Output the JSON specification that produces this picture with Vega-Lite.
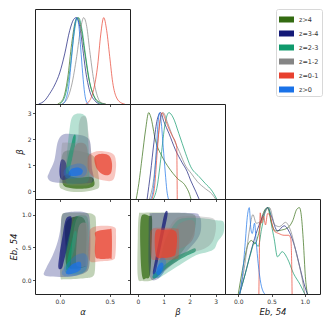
{
"$schema":"https://vega.github.io/schema/vega-lite/v6.json",
"padding":{"left":8,"top":8,"right":5,"bottom":5},
"background":"white",
"datasets":{
"c":[
{"p":"ab","s":"z>4","l":1,"x":0.03,"y":1.45},{"p":"ab","s":"z>4","l":1,"x":0.113,"y":1.58},{"p":"ab","s":"z>4","l":1,"x":0.247,"y":1.51},{"p":"ab","s":"z>4","l":1,"x":0.347,"y":1.32},{"p":"ab","s":"z>4","l":1,"x":0.38,"y":0.81},{"p":"ab","s":"z>4","l":1,"x":0.397,"y":0.24},{"p":"ab","s":"z>4","l":1,"x":0.363,"y":0.08},{"p":"ab","s":"z>4","l":1,"x":0.247,"y":-0.01},{"p":"ab","s":"z>4","l":1,"x":0.113,"y":-0.01},{"p":"ab","s":"z>4","l":1,"x":0.03,"y":0.08},{"p":"ab","s":"z>4","l":1,"x":-0.003,"y":0.24},{"p":"ab","s":"z>4","l":1,"x":0.013,"y":0.81},
{"p":"ab","s":"z>4","l":2,"x":0.047,"y":0.62},{"p":"ab","s":"z>4","l":2,"x":0.18,"y":0.53},{"p":"ab","s":"z>4","l":2,"x":0.313,"y":0.56},{"p":"ab","s":"z>4","l":2,"x":0.347,"y":0.37},{"p":"ab","s":"z>4","l":2,"x":0.33,"y":0.18},{"p":"ab","s":"z>4","l":2,"x":0.213,"y":0.1},{"p":"ab","s":"z>4","l":2,"x":0.08,"y":0.15},{"p":"ab","s":"z>4","l":2,"x":0.03,"y":0.31},
{"p":"ab","s":"z=3-4","l":1,"x":-0.12,"y":0.53},{"p":"ab","s":"z=3-4","l":1,"x":-0.103,"y":0.75},{"p":"ab","s":"z=3-4","l":1,"x":-0.053,"y":1.2},{"p":"ab","s":"z=3-4","l":1,"x":-0.02,"y":1.9},{"p":"ab","s":"z=3-4","l":1,"x":0.03,"y":2.18},{"p":"ab","s":"z=3-4","l":1,"x":0.113,"y":2.21},{"p":"ab","s":"z=3-4","l":1,"x":0.23,"y":2.15},{"p":"ab","s":"z=3-4","l":1,"x":0.297,"y":1.98},{"p":"ab","s":"z=3-4","l":1,"x":0.313,"y":1.58},{"p":"ab","s":"z=3-4","l":1,"x":0.32,"y":0.94},{"p":"ab","s":"z=3-4","l":1,"x":0.34,"y":0.41},{"p":"ab","s":"z=3-4","l":1,"x":0.247,"y":0.31},{"p":"ab","s":"z=3-4","l":1,"x":0.08,"y":0.31},{"p":"ab","s":"z=3-4","l":1,"x":-0.07,"y":0.36},
{"p":"ab","s":"z=3-4","l":2,"x":0.013,"y":1.2},{"p":"ab","s":"z=3-4","l":2,"x":0.053,"y":1.17},{"p":"ab","s":"z=3-4","l":2,"x":0.08,"y":0.88},{"p":"ab","s":"z=3-4","l":2,"x":0.113,"y":0.62},{"p":"ab","s":"z=3-4","l":2,"x":0.063,"y":0.46},{"p":"ab","s":"z=3-4","l":2,"x":0.013,"y":0.48},{"p":"ab","s":"z=3-4","l":2,"x":-0.003,"y":0.75},
{"p":"ab","s":"z=2-3","l":1,"x":0.063,"y":0.37},{"p":"ab","s":"z=2-3","l":1,"x":0.073,"y":1.45},{"p":"ab","s":"z=2-3","l":1,"x":0.097,"y":2.34},{"p":"ab","s":"z=2-3","l":1,"x":0.12,"y":2.82},{"p":"ab","s":"z=2-3","l":1,"x":0.163,"y":2.98},{"p":"ab","s":"z=2-3","l":1,"x":0.24,"y":2.95},{"p":"ab","s":"z=2-3","l":1,"x":0.273,"y":2.72},{"p":"ab","s":"z=2-3","l":1,"x":0.287,"y":1.83},{"p":"ab","s":"z=2-3","l":1,"x":0.297,"y":0.81},{"p":"ab","s":"z=2-3","l":1,"x":0.28,"y":0.37},{"p":"ab","s":"z=2-3","l":1,"x":0.18,"y":0.31},
{"p":"ab","s":"z=2-3","l":2,"x":0.063,"y":0.75},{"p":"ab","s":"z=2-3","l":2,"x":0.08,"y":1.26},{"p":"ab","s":"z=2-3","l":2,"x":0.113,"y":1.77},{"p":"ab","s":"z=2-3","l":2,"x":0.14,"y":2.15},{"p":"ab","s":"z=2-3","l":2,"x":0.16,"y":2.11},{"p":"ab","s":"z=2-3","l":2,"x":0.147,"y":1.58},{"p":"ab","s":"z=2-3","l":2,"x":0.113,"y":1.07},{"p":"ab","s":"z=2-3","l":2,"x":0.087,"y":0.71},
{"p":"ab","s":"z=1-2","l":1,"x":0.02,"y":1.73},{"p":"ab","s":"z=1-2","l":1,"x":0.053,"y":1.88},{"p":"ab","s":"z=1-2","l":1,"x":0.173,"y":1.91},{"p":"ab","s":"z=1-2","l":1,"x":0.193,"y":2.6},{"p":"ab","s":"z=1-2","l":1,"x":0.22,"y":2.88},{"p":"ab","s":"z=1-2","l":1,"x":0.267,"y":2.82},{"p":"ab","s":"z=1-2","l":1,"x":0.287,"y":2.28},{"p":"ab","s":"z=1-2","l":1,"x":0.313,"y":1.58},{"p":"ab","s":"z=1-2","l":1,"x":0.327,"y":0.81},{"p":"ab","s":"z=1-2","l":1,"x":0.313,"y":0.31},{"p":"ab","s":"z=1-2","l":1,"x":0.213,"y":0.23},{"p":"ab","s":"z=1-2","l":1,"x":0.047,"y":0.28},{"p":"ab","s":"z=1-2","l":1,"x":0.013,"y":0.56},
{"p":"ab","s":"z=1-2","l":2,"x":0.12,"y":0.81},{"p":"ab","s":"z=1-2","l":2,"x":0.133,"y":1.45},{"p":"ab","s":"z=1-2","l":2,"x":0.167,"y":1.81},{"p":"ab","s":"z=1-2","l":2,"x":0.233,"y":1.86},{"p":"ab","s":"z=1-2","l":2,"x":0.273,"y":1.68},{"p":"ab","s":"z=1-2","l":2,"x":0.287,"y":1.07},{"p":"ab","s":"z=1-2","l":2,"x":0.273,"y":0.62},{"p":"ab","s":"z=1-2","l":2,"x":0.18,"y":0.56},
{"p":"ab","s":"z=0-1","l":1,"x":0.297,"y":1.42},{"p":"ab","s":"z=0-1","l":1,"x":0.397,"y":1.55},{"p":"ab","s":"z=0-1","l":1,"x":0.53,"y":1.45},{"p":"ab","s":"z=0-1","l":1,"x":0.563,"y":1.13},{"p":"ab","s":"z=0-1","l":1,"x":0.553,"y":0.62},{"p":"ab","s":"z=0-1","l":1,"x":0.52,"y":0.41},{"p":"ab","s":"z=0-1","l":1,"x":0.43,"y":0.43},{"p":"ab","s":"z=0-1","l":1,"x":0.34,"y":0.56},{"p":"ab","s":"z=0-1","l":1,"x":0.287,"y":0.81},{"p":"ab","s":"z=0-1","l":1,"x":0.28,"y":1.2},
{"p":"ab","s":"z=0-1","l":2,"x":0.353,"y":1.35},{"p":"ab","s":"z=0-1","l":2,"x":0.43,"y":1.45},{"p":"ab","s":"z=0-1","l":2,"x":0.497,"y":1.36},{"p":"ab","s":"z=0-1","l":2,"x":0.523,"y":1.07},{"p":"ab","s":"z=0-1","l":2,"x":0.513,"y":0.71},{"p":"ab","s":"z=0-1","l":2,"x":0.463,"y":0.62},{"p":"ab","s":"z=0-1","l":2,"x":0.397,"y":0.75},{"p":"ab","s":"z=0-1","l":2,"x":0.357,"y":1.01},
{"p":"ab","s":"z>0","l":1,"x":0.04,"y":0.75},{"p":"ab","s":"z>0","l":1,"x":0.08,"y":0.94},{"p":"ab","s":"z>0","l":1,"x":0.18,"y":1.07},{"p":"ab","s":"z>0","l":1,"x":0.247,"y":1.01},{"p":"ab","s":"z>0","l":1,"x":0.273,"y":0.81},{"p":"ab","s":"z>0","l":1,"x":0.247,"y":0.59},{"p":"ab","s":"z>0","l":1,"x":0.147,"y":0.5},{"p":"ab","s":"z>0","l":1,"x":0.063,"y":0.53},
{"p":"ab","s":"z>0","l":2,"x":0.09,"y":0.71},{"p":"ab","s":"z>0","l":2,"x":0.12,"y":0.87},{"p":"ab","s":"z>0","l":2,"x":0.187,"y":0.92},{"p":"ab","s":"z>0","l":2,"x":0.23,"y":0.81},{"p":"ab","s":"z>0","l":2,"x":0.213,"y":0.64},{"p":"ab","s":"z>0","l":2,"x":0.14,"y":0.59},{"p":"ab","s":"z>0","l":2,"x":0.097,"y":0.62},
{"p":"ae","s":"z>4","l":1,"x":0.02,"y":0.99},{"p":"ae","s":"z>4","l":1,"x":0.063,"y":1.03},{"p":"ae","s":"z>4","l":1,"x":0.247,"y":1.03},{"p":"ae","s":"z>4","l":1,"x":0.34,"y":1.0},{"p":"ae","s":"z>4","l":1,"x":0.363,"y":0.89},{"p":"ae","s":"z>4","l":1,"x":0.357,"y":0.48},{"p":"ae","s":"z>4","l":1,"x":0.353,"y":0.16},{"p":"ae","s":"z>4","l":1,"x":0.33,"y":0.056},{"p":"ae","s":"z>4","l":1,"x":0.247,"y":0.03},{"p":"ae","s":"z>4","l":1,"x":0.047,"y":0.015},{"p":"ae","s":"z>4","l":1,"x":0.007,"y":0.056},{"p":"ae","s":"z>4","l":1,"x":0.007,"y":0.43},{"p":"ae","s":"z>4","l":1,"x":0.013,"y":0.84},
{"p":"ae","s":"z>4","l":2,"x":0.07,"y":0.9},{"p":"ae","s":"z>4","l":2,"x":0.25,"y":0.92},{"p":"ae","s":"z>4","l":2,"x":0.26,"y":0.3},{"p":"ae","s":"z>4","l":2,"x":0.24,"y":0.2},{"p":"ae","s":"z>4","l":2,"x":0.08,"y":0.2},{"p":"ae","s":"z>4","l":2,"x":0.06,"y":0.5},
{"p":"ae","s":"z=3-4","l":1,"x":-0.16,"y":0.09},{"p":"ae","s":"z=3-4","l":1,"x":-0.137,"y":0.18},{"p":"ae","s":"z=3-4","l":1,"x":-0.07,"y":0.38},{"p":"ae","s":"z=3-4","l":1,"x":-0.02,"y":0.59},{"p":"ae","s":"z=3-4","l":1,"x":0.007,"y":0.79},{"p":"ae","s":"z=3-4","l":1,"x":0.02,"y":0.965},{"p":"ae","s":"z=3-4","l":1,"x":0.053,"y":1.03},{"p":"ae","s":"z=3-4","l":1,"x":0.18,"y":1.05},{"p":"ae","s":"z=3-4","l":1,"x":0.263,"y":1.03},{"p":"ae","s":"z=3-4","l":1,"x":0.297,"y":0.965},{"p":"ae","s":"z=3-4","l":1,"x":0.307,"y":0.64},{"p":"ae","s":"z=3-4","l":1,"x":0.297,"y":0.23},{"p":"ae","s":"z=3-4","l":1,"x":0.247,"y":0.11},{"p":"ae","s":"z=3-4","l":1,"x":0.113,"y":0.056},{"p":"ae","s":"z=3-4","l":1,"x":-0.003,"y":0.05},{"p":"ae","s":"z=3-4","l":1,"x":-0.12,"y":0.06},
{"p":"ae","s":"z=3-4","l":2,"x":0.08,"y":0.965},{"p":"ae","s":"z=3-4","l":2,"x":0.12,"y":0.95},{"p":"ae","s":"z=3-4","l":2,"x":0.107,"y":0.74},{"p":"ae","s":"z=3-4","l":2,"x":0.073,"y":0.48},{"p":"ae","s":"z=3-4","l":2,"x":0.04,"y":0.28},{"p":"ae","s":"z=3-4","l":2,"x":0.02,"y":0.18},{"p":"ae","s":"z=3-4","l":2,"x":-0.013,"y":0.19},{"p":"ae","s":"z=3-4","l":2,"x":-0.003,"y":0.38},{"p":"ae","s":"z=3-4","l":2,"x":0.03,"y":0.69},{"p":"ae","s":"z=3-4","l":2,"x":0.053,"y":0.89},
{"p":"ae","s":"z=2-3","l":1,"x":0.047,"y":0.16},{"p":"ae","s":"z=2-3","l":1,"x":0.063,"y":0.48},{"p":"ae","s":"z=2-3","l":1,"x":0.113,"y":0.79},{"p":"ae","s":"z=2-3","l":1,"x":0.163,"y":0.965},{"p":"ae","s":"z=2-3","l":1,"x":0.23,"y":0.99},{"p":"ae","s":"z=2-3","l":1,"x":0.28,"y":0.94},{"p":"ae","s":"z=2-3","l":1,"x":0.29,"y":0.64},{"p":"ae","s":"z=2-3","l":1,"x":0.28,"y":0.23},{"p":"ae","s":"z=2-3","l":1,"x":0.23,"y":0.11},{"p":"ae","s":"z=2-3","l":1,"x":0.113,"y":0.09},
{"p":"ae","s":"z=2-3","l":2,"x":0.063,"y":0.18},{"p":"ae","s":"z=2-3","l":2,"x":0.08,"y":0.33},{"p":"ae","s":"z=2-3","l":2,"x":0.113,"y":0.54},{"p":"ae","s":"z=2-3","l":2,"x":0.147,"y":0.74},{"p":"ae","s":"z=2-3","l":2,"x":0.17,"y":0.71},{"p":"ae","s":"z=2-3","l":2,"x":0.147,"y":0.48},{"p":"ae","s":"z=2-3","l":2,"x":0.107,"y":0.28},{"p":"ae","s":"z=2-3","l":2,"x":0.087,"y":0.16},
{"p":"ae","s":"z=1-2","l":1,"x":0.113,"y":0.23},{"p":"ae","s":"z=1-2","l":1,"x":0.13,"y":0.64},{"p":"ae","s":"z=1-2","l":1,"x":0.163,"y":0.91},{"p":"ae","s":"z=1-2","l":1,"x":0.213,"y":1.0},{"p":"ae","s":"z=1-2","l":1,"x":0.273,"y":0.965},{"p":"ae","s":"z=1-2","l":1,"x":0.297,"y":0.74},{"p":"ae","s":"z=1-2","l":1,"x":0.29,"y":0.23},{"p":"ae","s":"z=1-2","l":1,"x":0.247,"y":0.13},{"p":"ae","s":"z=1-2","l":1,"x":0.147,"y":0.13},
{"p":"ae","s":"z=1-2","l":2,"x":0.163,"y":0.28},{"p":"ae","s":"z=1-2","l":2,"x":0.173,"y":0.64},{"p":"ae","s":"z=1-2","l":2,"x":0.197,"y":0.84},{"p":"ae","s":"z=1-2","l":2,"x":0.247,"y":0.88},{"p":"ae","s":"z=1-2","l":2,"x":0.28,"y":0.79},{"p":"ae","s":"z=1-2","l":2,"x":0.28,"y":0.28},{"p":"ae","s":"z=1-2","l":2,"x":0.247,"y":0.21},{"p":"ae","s":"z=1-2","l":2,"x":0.187,"y":0.21},
{"p":"ae","s":"z=0-1","l":1,"x":0.313,"y":0.79},{"p":"ae","s":"z=0-1","l":1,"x":0.413,"y":0.83},{"p":"ae","s":"z=0-1","l":1,"x":0.547,"y":0.81},{"p":"ae","s":"z=0-1","l":1,"x":0.563,"y":0.69},{"p":"ae","s":"z=0-1","l":1,"x":0.557,"y":0.38},{"p":"ae","s":"z=0-1","l":1,"x":0.53,"y":0.31},{"p":"ae","s":"z=0-1","l":1,"x":0.413,"y":0.29},{"p":"ae","s":"z=0-1","l":1,"x":0.313,"y":0.28},{"p":"ae","s":"z=0-1","l":1,"x":0.287,"y":0.38},{"p":"ae","s":"z=0-1","l":1,"x":0.297,"y":0.69},
{"p":"ae","s":"z=0-1","l":2,"x":0.363,"y":0.74},{"p":"ae","s":"z=0-1","l":2,"x":0.497,"y":0.78},{"p":"ae","s":"z=0-1","l":2,"x":0.52,"y":0.74},{"p":"ae","s":"z=0-1","l":2,"x":0.52,"y":0.36},{"p":"ae","s":"z=0-1","l":2,"x":0.497,"y":0.33},{"p":"ae","s":"z=0-1","l":2,"x":0.38,"y":0.33},{"p":"ae","s":"z=0-1","l":2,"x":0.353,"y":0.41},{"p":"ae","s":"z=0-1","l":2,"x":0.357,"y":0.64},
{"p":"ae","s":"z>0","l":1,"x":0.02,"y":0.11},{"p":"ae","s":"z>0","l":1,"x":0.063,"y":0.23},{"p":"ae","s":"z>0","l":1,"x":0.163,"y":0.38},{"p":"ae","s":"z>0","l":1,"x":0.247,"y":0.41},{"p":"ae","s":"z>0","l":1,"x":0.28,"y":0.33},{"p":"ae","s":"z>0","l":1,"x":0.263,"y":0.16},{"p":"ae","s":"z>0","l":1,"x":0.18,"y":0.08},{"p":"ae","s":"z>0","l":1,"x":0.063,"y":0.056},
{"p":"ae","s":"z>0","l":2,"x":0.063,"y":0.13},{"p":"ae","s":"z>0","l":2,"x":0.113,"y":0.23},{"p":"ae","s":"z>0","l":2,"x":0.18,"y":0.28},{"p":"ae","s":"z>0","l":2,"x":0.213,"y":0.26},{"p":"ae","s":"z>0","l":2,"x":0.207,"y":0.16},{"p":"ae","s":"z>0","l":2,"x":0.147,"y":0.11},{"p":"ae","s":"z>0","l":2,"x":0.08,"y":0.09},
{"p":"be","s":"z>4","l":1,"x":0.04,"y":0.99},{"p":"be","s":"z>4","l":1,"x":0.19,"y":1.03},{"p":"be","s":"z>4","l":1,"x":1.22,"y":1.03},{"p":"be","s":"z>4","l":1,"x":2.05,"y":1.015},{"p":"be","s":"z>4","l":1,"x":2.24,"y":0.94},{"p":"be","s":"z>4","l":1,"x":2.12,"y":0.69},{"p":"be","s":"z>4","l":1,"x":1.6,"y":0.38},{"p":"be","s":"z>4","l":1,"x":0.96,"y":0.13},{"p":"be","s":"z>4","l":1,"x":0.58,"y":0.005},{"p":"be","s":"z>4","l":1,"x":0.19,"y":-0.01},{"p":"be","s":"z>4","l":1,"x":0.0,"y":0.056},{"p":"be","s":"z>4","l":1,"x":0.0,"y":0.64},
{"p":"be","s":"z>4","l":2,"x":0.13,"y":0.965},{"p":"be","s":"z>4","l":2,"x":0.45,"y":0.98},{"p":"be","s":"z>4","l":2,"x":0.55,"y":0.94},{"p":"be","s":"z>4","l":2,"x":0.53,"y":0.48},{"p":"be","s":"z>4","l":2,"x":0.47,"y":0.08},{"p":"be","s":"z>4","l":2,"x":0.32,"y":0.03},{"p":"be","s":"z>4","l":2,"x":0.17,"y":0.056},{"p":"be","s":"z>4","l":2,"x":0.1,"y":0.48},
{"p":"be","s":"z=3-4","l":1,"x":0.45,"y":0.99},{"p":"be","s":"z=3-4","l":1,"x":0.64,"y":1.025},{"p":"be","s":"z=3-4","l":1,"x":2.12,"y":1.025},{"p":"be","s":"z=3-4","l":1,"x":2.37,"y":0.98},{"p":"be","s":"z=3-4","l":1,"x":2.44,"y":0.89},{"p":"be","s":"z=3-4","l":1,"x":2.4,"y":0.71},{"p":"be","s":"z=3-4","l":1,"x":2.12,"y":0.54},{"p":"be","s":"z=3-4","l":1,"x":1.6,"y":0.33},{"p":"be","s":"z=3-4","l":1,"x":1.09,"y":0.16},{"p":"be","s":"z=3-4","l":1,"x":0.77,"y":0.02},{"p":"be","s":"z=3-4","l":1,"x":0.51,"y":0.02},{"p":"be","s":"z=3-4","l":1,"x":0.42,"y":0.23},{"p":"be","s":"z=3-4","l":1,"x":0.42,"y":0.74},
{"p":"be","s":"z=3-4","l":2,"x":1.03,"y":1.015},{"p":"be","s":"z=3-4","l":2,"x":1.15,"y":1.015},{"p":"be","s":"z=3-4","l":2,"x":0.96,"y":0.64},{"p":"be","s":"z=3-4","l":2,"x":0.77,"y":0.28},{"p":"be","s":"z=3-4","l":2,"x":0.68,"y":0.11},{"p":"be","s":"z=3-4","l":2,"x":0.58,"y":0.11},{"p":"be","s":"z=3-4","l":2,"x":0.68,"y":0.33},{"p":"be","s":"z=3-4","l":2,"x":0.86,"y":0.69},
{"p":"be","s":"z=2-3","l":1,"x":1.09,"y":0.64},{"p":"be","s":"z=2-3","l":1,"x":1.47,"y":0.89},{"p":"be","s":"z=2-3","l":1,"x":1.86,"y":0.95},{"p":"be","s":"z=2-3","l":1,"x":2.63,"y":0.94},{"p":"be","s":"z=2-3","l":1,"x":3.01,"y":0.914},{"p":"be","s":"z=2-3","l":1,"x":3.29,"y":0.9},{"p":"be","s":"z=2-3","l":1,"x":3.33,"y":0.79},{"p":"be","s":"z=2-3","l":1,"x":3.27,"y":0.69},{"p":"be","s":"z=2-3","l":1,"x":3.08,"y":0.59},{"p":"be","s":"z=2-3","l":1,"x":2.95,"y":0.48},{"p":"be","s":"z=2-3","l":1,"x":2.69,"y":0.43},{"p":"be","s":"z=2-3","l":1,"x":2.24,"y":0.38},{"p":"be","s":"z=2-3","l":1,"x":1.6,"y":0.23},{"p":"be","s":"z=2-3","l":1,"x":0.96,"y":0.07},{"p":"be","s":"z=2-3","l":1,"x":0.77,"y":0.03},{"p":"be","s":"z=2-3","l":1,"x":0.71,"y":0.11},{"p":"be","s":"z=2-3","l":1,"x":0.9,"y":0.38},
{"p":"be","s":"z=2-3","l":2,"x":0.58,"y":0.07},{"p":"be","s":"z=2-3","l":2,"x":0.96,"y":0.21},{"p":"be","s":"z=2-3","l":2,"x":1.47,"y":0.36},{"p":"be","s":"z=2-3","l":2,"x":1.86,"y":0.43},{"p":"be","s":"z=2-3","l":2,"x":2.18,"y":0.49},{"p":"be","s":"z=2-3","l":2,"x":2.22,"y":0.44},{"p":"be","s":"z=2-3","l":2,"x":1.92,"y":0.38},{"p":"be","s":"z=2-3","l":2,"x":1.47,"y":0.28},{"p":"be","s":"z=2-3","l":2,"x":1.03,"y":0.16},{"p":"be","s":"z=2-3","l":2,"x":0.68,"y":0.03},
{"p":"be","s":"z=1-2","l":1,"x":1.15,"y":0.74},{"p":"be","s":"z=1-2","l":1,"x":1.47,"y":0.94},{"p":"be","s":"z=1-2","l":1,"x":1.99,"y":0.98},{"p":"be","s":"z=1-2","l":1,"x":2.63,"y":0.965},{"p":"be","s":"z=1-2","l":1,"x":2.95,"y":0.93},{"p":"be","s":"z=1-2","l":1,"x":3.01,"y":0.79},{"p":"be","s":"z=1-2","l":1,"x":2.88,"y":0.59},{"p":"be","s":"z=1-2","l":1,"x":2.56,"y":0.48},{"p":"be","s":"z=1-2","l":1,"x":1.99,"y":0.41},{"p":"be","s":"z=1-2","l":1,"x":1.47,"y":0.28},{"p":"be","s":"z=1-2","l":1,"x":1.09,"y":0.16},{"p":"be","s":"z=1-2","l":1,"x":0.9,"y":0.13},{"p":"be","s":"z=1-2","l":1,"x":0.96,"y":0.43},
{"p":"be","s":"z=1-2","l":2,"x":1.54,"y":0.84},{"p":"be","s":"z=1-2","l":2,"x":1.92,"y":0.914},{"p":"be","s":"z=1-2","l":2,"x":2.18,"y":0.89},{"p":"be","s":"z=1-2","l":2,"x":2.18,"y":0.69},{"p":"be","s":"z=1-2","l":2,"x":1.99,"y":0.56},{"p":"be","s":"z=1-2","l":2,"x":1.6,"y":0.48},{"p":"be","s":"z=1-2","l":2,"x":1.41,"y":0.51},{"p":"be","s":"z=1-2","l":2,"x":1.45,"y":0.69},
{"p":"be","s":"z=0-1","l":1,"x":0.55,"y":0.78},{"p":"be","s":"z=0-1","l":1,"x":0.83,"y":0.8},{"p":"be","s":"z=0-1","l":1,"x":1.47,"y":0.79},{"p":"be","s":"z=0-1","l":1,"x":1.58,"y":0.74},{"p":"be","s":"z=0-1","l":1,"x":1.58,"y":0.38},{"p":"be","s":"z=0-1","l":1,"x":1.45,"y":0.32},{"p":"be","s":"z=0-1","l":1,"x":0.71,"y":0.31},{"p":"be","s":"z=0-1","l":1,"x":0.51,"y":0.36},{"p":"be","s":"z=0-1","l":1,"x":0.47,"y":0.69},
{"p":"be","s":"z=0-1","l":2,"x":0.68,"y":0.74},{"p":"be","s":"z=0-1","l":2,"x":0.96,"y":0.77},{"p":"be","s":"z=0-1","l":2,"x":1.47,"y":0.74},{"p":"be","s":"z=0-1","l":2,"x":1.47,"y":0.43},{"p":"be","s":"z=0-1","l":2,"x":1.32,"y":0.36},{"p":"be","s":"z=0-1","l":2,"x":0.83,"y":0.34},{"p":"be","s":"z=0-1","l":2,"x":0.68,"y":0.41},
{"p":"be","s":"z>0","l":1,"x":0.58,"y":0.056},{"p":"be","s":"z>0","l":1,"x":0.68,"y":0.21},{"p":"be","s":"z>0","l":1,"x":0.86,"y":0.33},{"p":"be","s":"z>0","l":1,"x":1.03,"y":0.34},{"p":"be","s":"z>0","l":1,"x":1.09,"y":0.26},{"p":"be","s":"z>0","l":1,"x":0.99,"y":0.12},{"p":"be","s":"z>0","l":1,"x":0.81,"y":0.04},
{"p":"be","s":"z>0","l":2,"x":0.71,"y":0.11},{"p":"be","s":"z>0","l":2,"x":0.77,"y":0.21},{"p":"be","s":"z>0","l":2,"x":0.9,"y":0.27},{"p":"be","s":"z>0","l":2,"x":0.99,"y":0.24},{"p":"be","s":"z>0","l":2,"x":0.94,"y":0.14},{"p":"be","s":"z>0","l":2,"x":0.81,"y":0.08}
],
"h":[
{"p":"a","s":"z>4","x":-0.02,"y":0},{"p":"a","s":"z>4","x":0.03,"y":0.05},{"p":"a","s":"z>4","x":0.08,"y":0.3},{"p":"a","s":"z>4","x":0.12,"y":0.7},{"p":"a","s":"z>4","x":0.16,"y":0.97},{"p":"a","s":"z>4","x":0.18,"y":1.0},{"p":"a","s":"z>4","x":0.21,"y":0.9},{"p":"a","s":"z>4","x":0.25,"y":0.6},{"p":"a","s":"z>4","x":0.29,"y":0.3},{"p":"a","s":"z>4","x":0.34,"y":0.1},{"p":"a","s":"z>4","x":0.4,"y":0.02},{"p":"a","s":"z>4","x":0.46,"y":0},
{"p":"a","s":"z=3-4","x":-0.21,"y":0},{"p":"a","s":"z=3-4","x":-0.15,"y":0.04},{"p":"a","s":"z=3-4","x":-0.1,"y":0.12},{"p":"a","s":"z=3-4","x":-0.05,"y":0.22},{"p":"a","s":"z=3-4","x":0.0,"y":0.36},{"p":"a","s":"z=3-4","x":0.05,"y":0.58},{"p":"a","s":"z=3-4","x":0.1,"y":0.85},{"p":"a","s":"z=3-4","x":0.14,"y":0.98},{"p":"a","s":"z=3-4","x":0.165,"y":1.0},{"p":"a","s":"z=3-4","x":0.2,"y":0.9},{"p":"a","s":"z=3-4","x":0.23,"y":0.65},{"p":"a","s":"z=3-4","x":0.26,"y":0.38},{"p":"a","s":"z=3-4","x":0.3,"y":0.15},{"p":"a","s":"z=3-4","x":0.35,"y":0.04},{"p":"a","s":"z=3-4","x":0.4,"y":0},
{"p":"a","s":"z=2-3","x":0.0,"y":0},{"p":"a","s":"z=2-3","x":0.05,"y":0.08},{"p":"a","s":"z=2-3","x":0.1,"y":0.38},{"p":"a","s":"z=2-3","x":0.14,"y":0.78},{"p":"a","s":"z=2-3","x":0.17,"y":0.98},{"p":"a","s":"z=2-3","x":0.19,"y":1.0},{"p":"a","s":"z=2-3","x":0.22,"y":0.88},{"p":"a","s":"z=2-3","x":0.26,"y":0.55},{"p":"a","s":"z=2-3","x":0.3,"y":0.25},{"p":"a","s":"z=2-3","x":0.35,"y":0.07},{"p":"a","s":"z=2-3","x":0.4,"y":0.01},{"p":"a","s":"z=2-3","x":0.45,"y":0},
{"p":"a","s":"z=1-2","x":0.02,"y":0},{"p":"a","s":"z=1-2","x":0.07,"y":0.05},{"p":"a","s":"z=1-2","x":0.12,"y":0.22},{"p":"a","s":"z=1-2","x":0.17,"y":0.55},{"p":"a","s":"z=1-2","x":0.21,"y":0.88},{"p":"a","s":"z=1-2","x":0.24,"y":1.0},{"p":"a","s":"z=1-2","x":0.27,"y":0.9},{"p":"a","s":"z=1-2","x":0.3,"y":0.62},{"p":"a","s":"z=1-2","x":0.34,"y":0.28},{"p":"a","s":"z=1-2","x":0.38,"y":0.08},{"p":"a","s":"z=1-2","x":0.42,"y":0.01},{"p":"a","s":"z=1-2","x":0.46,"y":0},
{"p":"a","s":"z=0-1","x":0.26,"y":0},{"p":"a","s":"z=0-1","x":0.3,"y":0.04},{"p":"a","s":"z=0-1","x":0.34,"y":0.17},{"p":"a","s":"z=0-1","x":0.38,"y":0.45},{"p":"a","s":"z=0-1","x":0.41,"y":0.8},{"p":"a","s":"z=0-1","x":0.44,"y":1.0},{"p":"a","s":"z=0-1","x":0.47,"y":0.85},{"p":"a","s":"z=0-1","x":0.5,"y":0.55},{"p":"a","s":"z=0-1","x":0.53,"y":0.25},{"p":"a","s":"z=0-1","x":0.57,"y":0.07},{"p":"a","s":"z=0-1","x":0.62,"y":0.01},{"p":"a","s":"z=0-1","x":0.65,"y":0},
{"p":"a","s":"z>0","x":0.03,"y":0},{"p":"a","s":"z>0","x":0.06,"y":0.05},{"p":"a","s":"z>0","x":0.09,"y":0.2},{"p":"a","s":"z>0","x":0.12,"y":0.55},{"p":"a","s":"z>0","x":0.15,"y":0.9},{"p":"a","s":"z>0","x":0.17,"y":1.0},{"p":"a","s":"z>0","x":0.19,"y":0.92},{"p":"a","s":"z>0","x":0.21,"y":0.65},{"p":"a","s":"z>0","x":0.23,"y":0.35},{"p":"a","s":"z>0","x":0.25,"y":0.12},{"p":"a","s":"z>0","x":0.27,"y":0.02},{"p":"a","s":"z>0","x":0.29,"y":0},
{"p":"b","s":"z>4","x":-0.06,"y":0},{"p":"b","s":"z>4","x":0.04,"y":0.18},{"p":"b","s":"z>4","x":0.17,"y":0.49},{"p":"b","s":"z>4","x":0.3,"y":0.8},{"p":"b","s":"z>4","x":0.42,"y":1.0},{"p":"b","s":"z>4","x":0.5,"y":0.95},{"p":"b","s":"z>4","x":0.68,"y":0.68},{"p":"b","s":"z>4","x":0.94,"y":0.49},{"p":"b","s":"z>4","x":1.2,"y":0.36},{"p":"b","s":"z>4","x":1.52,"y":0.24},{"p":"b","s":"z>4","x":1.84,"y":0.15},{"p":"b","s":"z>4","x":2.0,"y":0.05},{"p":"b","s":"z>4","x":2.05,"y":0},
{"p":"b","s":"z=3-4","x":0.36,"y":0},{"p":"b","s":"z=3-4","x":0.49,"y":0.3},{"p":"b","s":"z=3-4","x":0.62,"y":0.65},{"p":"b","s":"z=3-4","x":0.75,"y":0.92},{"p":"b","s":"z=3-4","x":0.88,"y":1.0},{"p":"b","s":"z=3-4","x":1.0,"y":0.9},{"p":"b","s":"z=3-4","x":1.2,"y":0.76},{"p":"b","s":"z=3-4","x":1.45,"y":0.57},{"p":"b","s":"z=3-4","x":1.71,"y":0.42},{"p":"b","s":"z=3-4","x":1.9,"y":0.32},{"p":"b","s":"z=3-4","x":2.03,"y":0.22},{"p":"b","s":"z=3-4","x":2.23,"y":0.09},{"p":"b","s":"z=3-4","x":2.36,"y":0},
{"p":"b","s":"z=2-3","x":0.6,"y":0},{"p":"b","s":"z=2-3","x":0.75,"y":0.15},{"p":"b","s":"z=2-3","x":0.9,"y":0.5},{"p":"b","s":"z=2-3","x":1.05,"y":0.87},{"p":"b","s":"z=2-3","x":1.2,"y":1.0},{"p":"b","s":"z=2-3","x":1.35,"y":0.95},{"p":"b","s":"z=2-3","x":1.58,"y":0.76},{"p":"b","s":"z=2-3","x":1.84,"y":0.53},{"p":"b","s":"z=2-3","x":2.03,"y":0.38},{"p":"b","s":"z=2-3","x":2.36,"y":0.26},{"p":"b","s":"z=2-3","x":2.6,"y":0.18},{"p":"b","s":"z=2-3","x":2.87,"y":0.09},{"p":"b","s":"z=2-3","x":3.04,"y":0},
{"p":"b","s":"z=1-2","x":0.45,"y":0},{"p":"b","s":"z=1-2","x":0.6,"y":0.2},{"p":"b","s":"z=1-2","x":0.75,"y":0.62},{"p":"b","s":"z=1-2","x":0.88,"y":0.93},{"p":"b","s":"z=1-2","x":0.98,"y":1.0},{"p":"b","s":"z=1-2","x":1.15,"y":0.88},{"p":"b","s":"z=1-2","x":1.35,"y":0.72},{"p":"b","s":"z=1-2","x":1.6,"y":0.55},{"p":"b","s":"z=1-2","x":1.85,"y":0.38},{"p":"b","s":"z=1-2","x":2.05,"y":0.3},{"p":"b","s":"z=1-2","x":2.3,"y":0.2},{"p":"b","s":"z=1-2","x":2.6,"y":0.12},{"p":"b","s":"z=1-2","x":2.85,"y":0.06},{"p":"b","s":"z=1-2","x":3.0,"y":0},
{"p":"b","s":"z=0-1","x":0.55,"y":0},{"p":"b","s":"z=0-1","x":0.65,"y":0.15},{"p":"b","s":"z=0-1","x":0.75,"y":0.55},{"p":"b","s":"z=0-1","x":0.85,"y":0.9},{"p":"b","s":"z=0-1","x":0.94,"y":1.0},{"p":"b","s":"z=0-1","x":1.05,"y":0.93},{"p":"b","s":"z=0-1","x":1.15,"y":0.85},{"p":"b","s":"z=0-1","x":1.25,"y":0.78},{"p":"b","s":"z=0-1","x":1.35,"y":0.72},{"p":"b","s":"z=0-1","x":1.45,"y":0.66},{"p":"b","s":"z=0-1","x":1.5,"y":0.6},{"p":"b","s":"z=0-1","x":1.52,"y":0},
{"p":"b","s":"z>0","x":0.5,"y":0},{"p":"b","s":"z>0","x":0.6,"y":0.12},{"p":"b","s":"z>0","x":0.7,"y":0.5},{"p":"b","s":"z>0","x":0.78,"y":0.88},{"p":"b","s":"z>0","x":0.84,"y":1.0},{"p":"b","s":"z>0","x":0.9,"y":0.9},{"p":"b","s":"z>0","x":0.98,"y":0.6},{"p":"b","s":"z>0","x":1.06,"y":0.3},{"p":"b","s":"z>0","x":1.12,"y":0.1},{"p":"b","s":"z>0","x":1.18,"y":0},
{"p":"e","s":"z>4","x":0.0,"y":0},{"p":"e","s":"z>4","x":0.08,"y":0.35},{"p":"e","s":"z>4","x":0.15,"y":0.58},{"p":"e","s":"z>4","x":0.2,"y":0.62},{"p":"e","s":"z>4","x":0.25,"y":0.58},{"p":"e","s":"z>4","x":0.3,"y":0.68},{"p":"e","s":"z>4","x":0.36,"y":0.9},{"p":"e","s":"z>4","x":0.44,"y":1.0},{"p":"e","s":"z>4","x":0.5,"y":0.82},{"p":"e","s":"z>4","x":0.56,"y":0.73},{"p":"e","s":"z>4","x":0.65,"y":0.74},{"p":"e","s":"z>4","x":0.75,"y":0.77},{"p":"e","s":"z>4","x":0.82,"y":0.85},{"p":"e","s":"z>4","x":0.88,"y":0.98},{"p":"e","s":"z>4","x":0.92,"y":1.0},{"p":"e","s":"z>4","x":0.95,"y":0.9},{"p":"e","s":"z>4","x":0.98,"y":0.6},{"p":"e","s":"z>4","x":1.01,"y":0.2},{"p":"e","s":"z>4","x":1.04,"y":0},
{"p":"e","s":"z=3-4","x":0.02,"y":0},{"p":"e","s":"z=3-4","x":0.1,"y":0.22},{"p":"e","s":"z=3-4","x":0.2,"y":0.52},{"p":"e","s":"z=3-4","x":0.29,"y":0.75},{"p":"e","s":"z=3-4","x":0.37,"y":0.9},{"p":"e","s":"z=3-4","x":0.44,"y":1.0},{"p":"e","s":"z=3-4","x":0.5,"y":0.9},{"p":"e","s":"z=3-4","x":0.59,"y":0.73},{"p":"e","s":"z=3-4","x":0.69,"y":0.79},{"p":"e","s":"z=3-4","x":0.76,"y":0.73},{"p":"e","s":"z=3-4","x":0.86,"y":0.52},{"p":"e","s":"z=3-4","x":0.93,"y":0.3},{"p":"e","s":"z=3-4","x":1.0,"y":0.09},{"p":"e","s":"z=3-4","x":1.04,"y":0},
{"p":"e","s":"z=2-3","x":0.02,"y":0},{"p":"e","s":"z=2-3","x":0.1,"y":0.22},{"p":"e","s":"z=2-3","x":0.18,"y":0.45},{"p":"e","s":"z=2-3","x":0.25,"y":0.6},{"p":"e","s":"z=2-3","x":0.3,"y":0.55},{"p":"e","s":"z=2-3","x":0.35,"y":0.75},{"p":"e","s":"z=2-3","x":0.42,"y":0.98},{"p":"e","s":"z=2-3","x":0.46,"y":1.0},{"p":"e","s":"z=2-3","x":0.5,"y":0.8},{"p":"e","s":"z=2-3","x":0.54,"y":0.64},{"p":"e","s":"z=2-3","x":0.59,"y":0.43},{"p":"e","s":"z=2-3","x":0.66,"y":0.49},{"p":"e","s":"z=2-3","x":0.74,"y":0.41},{"p":"e","s":"z=2-3","x":0.83,"y":0.24},{"p":"e","s":"z=2-3","x":0.93,"y":0.11},{"p":"e","s":"z=2-3","x":1.0,"y":0},
{"p":"e","s":"z=1-2","x":0.02,"y":0},{"p":"e","s":"z=1-2","x":0.1,"y":0.35},{"p":"e","s":"z=1-2","x":0.17,"y":0.75},{"p":"e","s":"z=1-2","x":0.22,"y":0.92},{"p":"e","s":"z=1-2","x":0.27,"y":0.82},{"p":"e","s":"z=1-2","x":0.35,"y":0.85},{"p":"e","s":"z=1-2","x":0.42,"y":0.97},{"p":"e","s":"z=1-2","x":0.47,"y":1.0},{"p":"e","s":"z=1-2","x":0.55,"y":0.8},{"p":"e","s":"z=1-2","x":0.62,"y":0.78},{"p":"e","s":"z=1-2","x":0.71,"y":0.83},{"p":"e","s":"z=1-2","x":0.78,"y":0.75},{"p":"e","s":"z=1-2","x":0.88,"y":0.45},{"p":"e","s":"z=1-2","x":0.96,"y":0.18},{"p":"e","s":"z=1-2","x":1.0,"y":0},
{"p":"e","s":"z=0-1","x":0.31,"y":0},{"p":"e","s":"z=0-1","x":0.32,"y":0.6},{"p":"e","s":"z=0-1","x":0.33,"y":0.94},{"p":"e","s":"z=0-1","x":0.35,"y":0.82},{"p":"e","s":"z=0-1","x":0.38,"y":0.9},{"p":"e","s":"z=0-1","x":0.41,"y":0.8},{"p":"e","s":"z=0-1","x":0.44,"y":0.93},{"p":"e","s":"z=0-1","x":0.47,"y":0.92},{"p":"e","s":"z=0-1","x":0.54,"y":0.73},{"p":"e","s":"z=0-1","x":0.61,"y":0.7},{"p":"e","s":"z=0-1","x":0.69,"y":0.68},{"p":"e","s":"z=0-1","x":0.76,"y":0.68},{"p":"e","s":"z=0-1","x":0.79,"y":0.64},{"p":"e","s":"z=0-1","x":0.805,"y":0.3},{"p":"e","s":"z=0-1","x":0.81,"y":0},
{"p":"e","s":"z>0","x":0.02,"y":0},{"p":"e","s":"z>0","x":0.06,"y":0.2},{"p":"e","s":"z>0","x":0.1,"y":0.55},{"p":"e","s":"z>0","x":0.14,"y":0.92},{"p":"e","s":"z>0","x":0.165,"y":1.0},{"p":"e","s":"z>0","x":0.19,"y":0.75},{"p":"e","s":"z>0","x":0.21,"y":0.7},{"p":"e","s":"z>0","x":0.245,"y":0.82},{"p":"e","s":"z>0","x":0.27,"y":0.6},{"p":"e","s":"z>0","x":0.3,"y":0.35},{"p":"e","s":"z>0","x":0.34,"y":0.12},{"p":"e","s":"z>0","x":0.38,"y":0.02},{"p":"e","s":"z>0","x":0.4,"y":0}
]
},
"config":{
"view":{"stroke":"#222","strokeWidth":1},
"axis":{"domain":false,"grid":false,"tickColor":"#222","tickSize":2.5,"tickWidth":0.8,"labelFont":"DejaVu Sans","labelFontSize":6,"labelColor":"#333","labelPadding":1.5,"titleFont":"DejaVu Sans","titleFontSize":8.5,"titleFontStyle":"italic","titleFontWeight":"normal","titleColor":"#222","titlePadding":3},
"legend":{"orient":"none","legendX":241,"legendY":0,"padding":3,"rowPadding":3,"symbolType":"M-1,-0.4H1V0.4H-1Z","symbolSize":225,"symbolStrokeWidth":0,"symbolOpacity":1,"labelFont":"DejaVu Sans","labelFontSize":6.5,"labelColor":"#333","labelOffset":5,"strokeColor":"#d8d8d8","fillColor":"white","cornerRadius":2}
},
"columns":3,
"spacing":0,
"bounds":"flush",
"resolve":{"scale":{"color":"shared","fillOpacity":"shared"},"legend":{"color":"shared"}},
"concat":[
{"width":95,"height":95,"data":{"name":"h"},"transform":[{"filter":"datum.p=='a'"}],
 "mark":{"type":"line","strokeWidth":0.7,"interpolate":"monotone","clip":true},
 "encoding":{
  "x":{"field":"x","type":"quantitative","scale":{"domain":[-0.247,0.703],"nice":false,"zero":false},"axis":{"values":[0,0.5],"labels":false,"title":null}},
  "y":{"field":"y","type":"quantitative","scale":{"domain":[0,1.1],"nice":false},"axis":null},
  "color":{"field":"s","type":"nominal","scale":{"domain":["z>4","z=3-4","z=2-3","z=1-2","z=0-1","z>0"],"range":["#336b11","#141a78","#109a6c","#858585","#e8412f","#1a72e8"]},"legend":{"title":null}}
 }},
{"width":95,"height":95,"view":{"stroke":null},"data":{"values":[]},"mark":"point"},
{"width":95,"height":95,"view":{"stroke":null},"data":{"values":[]},"mark":"point"},
{"width":95,"height":95,"data":{"name":"c"},"transform":[{"filter":"datum.p=='ab'"}],
 "mark":{"type":"line","filled":true,"interpolate":"cardinal-closed","strokeWidth":0,"clip":true},
 "encoding":{
  "x":{"field":"x","type":"quantitative","scale":{"domain":[-0.247,0.703],"nice":false,"zero":false},"axis":{"values":[0,0.5],"labels":false,"title":null}},
  "y":{"field":"y","type":"quantitative","scale":{"domain":[-0.29,3.36],"nice":false,"zero":false},"axis":{"values":[0,1,2,3],"format":"d","title":"β"}},
  "color":{"field":"s","type":"nominal","scale":{"domain":["z>4","z=3-4","z=2-3","z=1-2","z=0-1","z>0"],"range":["#336b11","#141a78","#109a6c","#858585","#e8412f","#1a72e8"]},"legend":{"title":null}},
  "fillOpacity":{"field":"l","type":"quantitative","scale":{"domain":[1,2],"range":[0.3,0.75]},"legend":null},
  "detail":{"field":"l","type":"nominal"},
  "order":{"value":null}
 }},
{"width":95,"height":95,"data":{"name":"h"},"transform":[{"filter":"datum.p=='b'"}],
 "mark":{"type":"line","strokeWidth":0.7,"interpolate":"monotone","clip":true},
 "encoding":{
  "x":{"field":"x","type":"quantitative","scale":{"domain":[-0.3,3.36],"nice":false,"zero":false},"axis":{"values":[0,1,2,3],"labels":false,"title":null}},
  "y":{"field":"y","type":"quantitative","scale":{"domain":[0,1.1],"nice":false},"axis":null},
  "color":{"field":"s","type":"nominal","scale":{"domain":["z>4","z=3-4","z=2-3","z=1-2","z=0-1","z>0"],"range":["#336b11","#141a78","#109a6c","#858585","#e8412f","#1a72e8"]},"legend":{"title":null}}
 }},
{"width":95,"height":95,"view":{"stroke":null},"data":{"values":[]},"mark":"point"},
{"width":95,"height":95,"data":{"name":"c"},"transform":[{"filter":"datum.p=='ae'"}],
 "mark":{"type":"line","filled":true,"interpolate":"cardinal-closed","strokeWidth":0,"clip":true},
 "encoding":{
  "x":{"field":"x","type":"quantitative","scale":{"domain":[-0.247,0.703],"nice":false,"zero":false},"axis":{"values":[0,0.5],"format":".1f","title":"α"}},
  "y":{"field":"y","type":"quantitative","scale":{"domain":[-0.21,1.24],"nice":false,"zero":false},"axis":{"values":[0,0.5,1],"format":".1f","title":"Eb, 54"}},
  "color":{"field":"s","type":"nominal","scale":{"domain":["z>4","z=3-4","z=2-3","z=1-2","z=0-1","z>0"],"range":["#336b11","#141a78","#109a6c","#858585","#e8412f","#1a72e8"]},"legend":{"title":null}},
  "fillOpacity":{"field":"l","type":"quantitative","scale":{"domain":[1,2],"range":[0.3,0.75]},"legend":null},
  "detail":{"field":"l","type":"nominal"},
  "order":{"value":null}
 }},
{"width":95,"height":95,"data":{"name":"c"},"transform":[{"filter":"datum.p=='be'"}],
 "mark":{"type":"line","filled":true,"interpolate":"cardinal-closed","strokeWidth":0,"clip":true},
 "encoding":{
  "x":{"field":"x","type":"quantitative","scale":{"domain":[-0.3,3.36],"nice":false,"zero":false},"axis":{"values":[0,1,2,3],"format":"d","title":"β"}},
  "y":{"field":"y","type":"quantitative","scale":{"domain":[-0.21,1.24],"nice":false,"zero":false},"axis":{"values":[0,0.5,1],"labels":false,"title":null}},
  "color":{"field":"s","type":"nominal","scale":{"domain":["z>4","z=3-4","z=2-3","z=1-2","z=0-1","z>0"],"range":["#336b11","#141a78","#109a6c","#858585","#e8412f","#1a72e8"]},"legend":{"title":null}},
  "fillOpacity":{"field":"l","type":"quantitative","scale":{"domain":[1,2],"range":[0.3,0.75]},"legend":null},
  "detail":{"field":"l","type":"nominal"},
  "order":{"value":null}
 }},
{"width":95,"height":95,"data":{"name":"h"},"transform":[{"filter":"datum.p=='e'"}],
 "mark":{"type":"line","strokeWidth":0.7,"interpolate":"monotone","clip":true},
 "encoding":{
  "x":{"field":"x","type":"quantitative","scale":{"domain":[-0.2,1.23],"nice":false,"zero":false},"axis":{"values":[0,0.5,1],"format":".1f","title":"Eb, 54"}},
  "y":{"field":"y","type":"quantitative","scale":{"domain":[0,1.1],"nice":false},"axis":null},
  "color":{"field":"s","type":"nominal","scale":{"domain":["z>4","z=3-4","z=2-3","z=1-2","z=0-1","z>0"],"range":["#336b11","#141a78","#109a6c","#858585","#e8412f","#1a72e8"]},"legend":{"title":null}}
 }}
]
}
